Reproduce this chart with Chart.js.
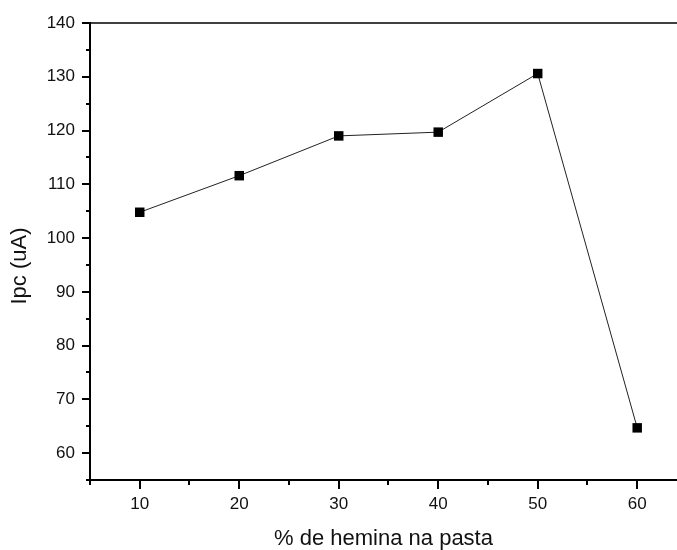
<!DOCTYPE html>
<html>
<head>
<meta charset="utf-8">
<script src="https://cdn.jsdelivr.net/npm/chart.js@4"></script>
<style>
  html, body { margin: 0; padding: 0; background: #fff; }
  #wrap { width: 677px; height: 550px; }
</style>
</head>
<body>
<div id="wrap"><canvas id="ipcChart" width="677" height="550"></canvas></div>
<script>
// Data
const hemina = [10, 20, 30, 40, 50, 60];
const ipc = [104.8, 111.6, 119.0, 119.7, 130.6, 64.7];

// Axis ticks
const xTicks = [10, 20, 30, 40, 50, 60];
const xMinor = [5, 15, 25, 35, 45, 55];
const yTicks = [60, 70, 80, 90, 100, 110, 120, 130, 140];
const yMinor = [55, 65, 75, 85, 95, 105, 115, 125, 135];

const fontFamily = '"Liberation Sans", Arial, sans-serif';

// Origin-style outward ticks, top frame line and the y title
const axisTicks = {
  id: 'axisTicks',
  afterDraw(chart) {
    const { ctx, chartArea: a, scales: { x, y } } = chart;
    ctx.save();
    ctx.strokeStyle = '#000';
    ctx.lineWidth = 2;
    ctx.beginPath();
    xTicks.forEach(v => {
      const px = Math.round(x.getPixelForValue(v));
      ctx.moveTo(px, a.bottom);
      ctx.lineTo(px, a.bottom + 9);
    });
    xMinor.forEach(v => {
      const px = Math.round(x.getPixelForValue(v));
      ctx.moveTo(px, a.bottom);
      ctx.lineTo(px, a.bottom + 5);
    });
    yTicks.forEach(v => {
      const py = Math.round(y.getPixelForValue(v));
      ctx.moveTo(a.left, py);
      ctx.lineTo(a.left - 8, py);
    });
    yMinor.forEach(v => {
      const py = Math.round(y.getPixelForValue(v));
      ctx.moveTo(a.left, py);
      ctx.lineTo(a.left - 4, py);
    });
    ctx.stroke();

    // top frame line
    ctx.lineWidth = 1.5;
    ctx.beginPath();
    ctx.moveTo(a.left, a.top);
    ctx.lineTo(a.right, a.top);
    ctx.stroke();

    // y axis title
    ctx.translate(20, 266);
    ctx.rotate(-Math.PI / 2);
    ctx.fillStyle = '#111';
    ctx.font = '22px ' + fontFamily;
    ctx.textAlign = 'center';
    ctx.textBaseline = 'middle';
    ctx.fillText('Ipc (uA)', 0, 0);
    ctx.restore();
  }
};

const ctx = document.getElementById('ipcChart').getContext('2d');
const ipcChart = new Chart(ctx, {
  type: 'line',
  data: {
    datasets: [{
      label: 'Ipc',
      data: hemina.map((h, i) => ({ x: h, y: ipc[i] })),
      borderColor: '#222',
      borderWidth: 1,
      pointStyle: 'rect',
      pointRadius: 6.7,
      pointBackgroundColor: '#000',
      pointBorderColor: '#000',
      pointBorderWidth: 0,
      tension: 0,
    }],
  },
  options: {
    responsive: false,
    animation: false,
    layout: { autoPadding: false, padding: { top: 23, left: 0, right: 0, bottom: 0 } },
    plugins: {
      legend: { display: false },
      tooltip: { enabled: false },
    },
    scales: {
      x: {
        type: 'linear',
        min: 5,
        max: 64,
        afterBuildTicks: s => { s.ticks = xTicks.map(v => ({ value: v })); },
        afterFit: s => { s.height = 70; s.paddingLeft = 0; s.paddingRight = 0; },
        grid: { display: false, drawTicks: false },
        border: { display: true, color: '#000', width: 2 },
        ticks: {
          color: '#111',
          padding: 14,
          maxRotation: 0,
          font: { family: fontFamily, size: 17 },
        },
        title: {
          display: true,
          text: '% de hemina na pasta',
          color: '#111',
          padding: 0,
          font: { family: fontFamily, size: 22, lineHeight: 1 },
        },
      },
      y: {
        type: 'linear',
        min: 55,
        max: 140,
        afterBuildTicks: s => { s.ticks = yTicks.map(v => ({ value: v })); },
        afterFit: s => { s.width = 90; s.paddingTop = 0; s.paddingBottom = 0; },
        grid: { display: false, drawTicks: false },
        border: { display: true, color: '#000', width: 2 },
        ticks: {
          color: '#111',
          padding: 15,
          font: { family: fontFamily, size: 17 },
        },
      },
    },
  },
  plugins: [axisTicks],
});
</script>
</body>
</html>
